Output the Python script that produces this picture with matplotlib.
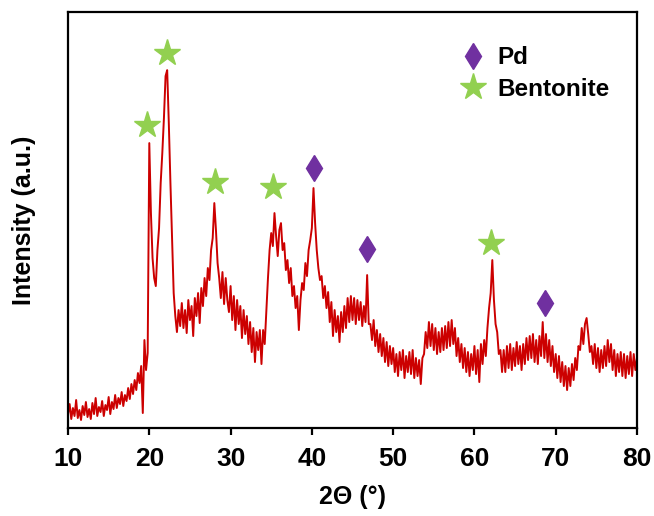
import numpy as np
import matplotlib
matplotlib.use("Agg")
import matplotlib.pyplot as plt

# XRD pattern, 10-80 deg in 0.2 deg steps (arb. units)
two_theta = np.round(np.arange(10.0, 80.01, 0.2), 1)
intensity = [
    14, 24, 9, 20, 12, 28, 10, 18, 8, 22,
    13, 26, 11, 19, 9, 25, 14, 30, 12, 21,
    16, 27, 12, 23, 18, 31, 14, 26, 19, 33,
    20, 30, 24, 36, 22, 33, 27, 40, 29, 44,
    34, 48, 38, 55, 45, 62, 15, 88, 58, 75,
    285, 215, 170, 150, 142, 178, 200, 245, 275, 310,
    352, 358, 305, 245, 190, 135, 112, 96, 118, 102,
    125, 100, 118, 95, 128, 108, 122, 92, 130, 112,
    135, 105, 140, 122, 150, 132, 160, 148, 178, 190,
    225, 198, 165, 150, 130, 156, 124, 150, 128, 116,
    142, 108, 132, 98, 128, 104, 122, 90, 118, 94,
    112, 84, 106, 76, 100, 66, 96, 78, 98, 64,
    98, 84, 118, 150, 178, 195, 182, 215, 192, 172,
    198, 205, 178, 185, 158, 168, 145, 160, 132, 142,
    120, 132, 98, 128, 145, 138, 165, 152, 178, 188,
    200, 240, 205, 178, 160, 148, 152, 130, 142, 120,
    136, 106, 126, 92, 118, 96, 112, 86, 116, 96,
    122, 100, 130, 106, 132, 108, 130, 104, 128, 108,
    126, 102, 122, 106, 153, 104, 104, 88, 108, 82,
    98, 76, 94, 72, 90, 66, 86, 62, 82, 64,
    80, 56, 74, 52, 76, 58, 78, 50, 72, 56,
    76, 54, 78, 50, 70, 52, 68, 44, 70, 74,
    96, 80, 106, 82, 104, 78, 100, 74, 96, 76,
    100, 78, 102, 80, 106, 82, 108, 84, 100, 72,
    90, 66, 84, 60, 80, 56, 76, 52, 74, 58,
    82, 54, 78, 46, 84, 64, 88, 72, 100, 120,
    135, 168, 128, 104, 96, 74, 78, 56, 78, 56,
    82, 60, 84, 58, 80, 62, 86, 64, 82, 58,
    84, 64, 90, 68, 92, 70, 94, 66, 88, 64,
    92, 72, 106, 70, 94, 66, 88, 62, 82, 56,
    74, 50, 72, 46, 66, 42, 62, 38, 60, 42,
    64, 48, 70, 58, 82, 78, 100, 84, 104, 110,
    94, 76, 82, 64, 84, 60, 80, 56, 78, 60,
    82, 62, 88, 66, 84, 58, 78, 52, 74, 56,
    76, 52, 74, 50, 72, 54, 76, 52, 74, 58,
    70,
]

# peak markers
bent_x = [19.7, 22.2, 28.1, 35.2, 62.1]
bent_y = [303, 375, 246, 241, 185]
pd_x = [40.3, 46.8, 68.7]
pd_y = [260, 179, 125]

x_ticks = [10, 20, 30, 40, 50, 60, 70, 80]

plt.rcParams['font.family'] = ['Liberation Sans', 'DejaVu Sans']

fig = plt.figure(figsize=(6.54, 5.16), dpi=100)
ax = fig.add_axes([0.104, 0.1705, 0.870, 0.806])

ax.plot(two_theta, intensity, color="#cc0000", lw=1.4)
ax.plot(pd_x, pd_y, ls="none", marker="d", ms=13, color="#7030a0", label="Pd")
ax.plot(bent_x, bent_y, ls="none", marker="*", ms=20, color="#92d050", label="Bentonite")

ax.set_xlim(10, 80)
ax.set_ylim(0, 416)
ax.set_xticks(x_ticks)
ax.set_yticks([])
for lab in ax.get_xticklabels():
    lab.set_fontweight('bold')
    lab.set_fontsize(19)
ax.tick_params(axis='x', direction='out', length=5, width=1.6, pad=9)
for sp in ax.spines.values():
    sp.set_linewidth(1.6)

ax.set_xlabel("2Θ (°)", fontsize=18, fontweight='bold', labelpad=10)
ax.set_ylabel("Intensity (a.u.)", fontsize=18, fontweight='bold', labelpad=23)

leg = ax.legend(loc='upper left', bbox_to_anchor=(0.652, 0.97), frameon=False,
                handlelength=1.0, handletextpad=0.5, labelspacing=0.35,
                prop={'weight': 'bold', 'size': 17.5})

fig.savefig("out.png", dpi=100)
